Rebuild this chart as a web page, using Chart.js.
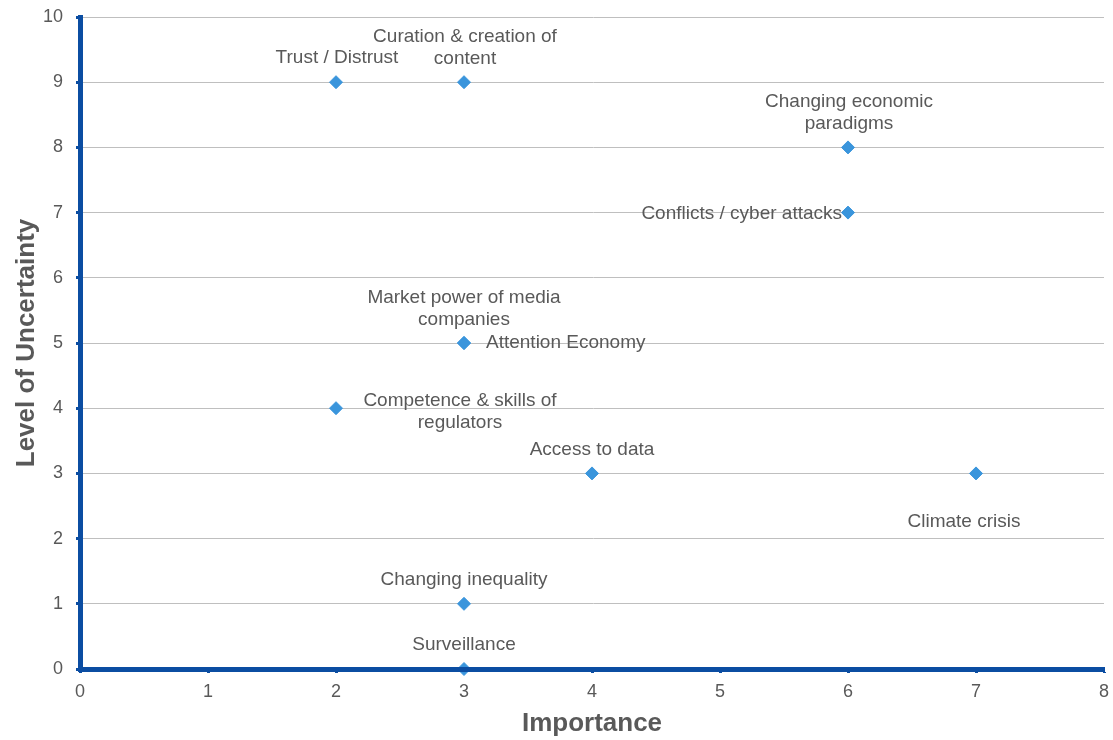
<!DOCTYPE html>
<html>
<head>
<meta charset="utf-8">
<script src="https://cdn.jsdelivr.net/npm/chart.js@4"></script>
<style>
  html, body { margin: 0; padding: 0; background: #fff; }
  #wrap { width: 1113px; height: 740px; position: relative; }
</style>
</head>
<body>
<div id="wrap"><canvas id="riskChart"></canvas></div>
<script>
// Data
const topics = [
    ["Trust / Distrust"],
    ["Curation & creation of", "content"],
    ["Changing economic", "paradigms"],
    ["Conflicts / cyber attacks"],
    ["Market power of media", "companies"],
    ["Attention Economy"],
    ["Competence & skills of", "regulators"],
    ["Access to data"],
    ["Climate crisis"],
    ["Changing inequality"],
    ["Surveillance"]
];
const importance = [2, 3, 6, 6, 3, 3, 2, 4, 7, 3, 3];
const uncertainty = [9, 9, 8, 7, 5, 5, 4, 3, 3, 1, 0];
const xTicks = [0, 1, 2, 3, 4, 5, 6, 7, 8];
const yTicks = [0, 1, 2, 3, 4, 5, 6, 7, 8, 9, 10];

// label placement relative to each point (px): dx, dy of text block middle, alignment
const labelPos = [
    { dx: 1, dy: -24, align: 'center' },
    { dx: 1, dy: -34, align: 'center' },
    { dx: 1, dy: -35, align: 'center' },
    { dx: -6, dy: 1, align: 'right' },
    { dx: 0, dy: -34, align: 'center' },
    { dx: 22, dy: 0, align: 'left' },
    { dx: 124, dy: 4, align: 'center' },
    { dx: 0, dy: -24, align: 'center' },
    { dx: -12, dy: 48, align: 'center' },
    { dx: 0, dy: -24, align: 'center' },
    { dx: 0, dy: -24, align: 'center' }
];

const AXIS_BLUE = '#0b4da2';
const POINT_BLUE = '#3a95dc';
const TEXT_GREY = '#595959';
const FONT = "'Liberation Sans', Arial, sans-serif";

const pointLabels = {
    id: 'pointLabels',
    afterDatasetsDraw(chart) {
        const ctx = chart.ctx;
        const meta = chart.getDatasetMeta(0);
        ctx.save();
        ctx.font = '19px ' + FONT;
        ctx.fillStyle = TEXT_GREY;
        ctx.textBaseline = 'middle';
        meta.data.forEach((pt, i) => {
            const lines = topics[i];
            const p = labelPos[i];
            const lh = 22;
            ctx.textAlign = p.align;
            const top = pt.y + p.dy - (lines.length - 1) * lh / 2;
            lines.forEach((ln, j) => ctx.fillText(ln, pt.x + p.dx, top + j * lh));
        });
        ctx.restore();
    }
};

const ctx = document.getElementById('riskChart').getContext('2d');
new Chart(ctx, {
    type: 'scatter',
    data: {
        datasets: [{
            data: importance.map((x, i) => ({ x: x, y: uncertainty[i] })),
            backgroundColor: POINT_BLUE,
            borderColor: POINT_BLUE,
            borderWidth: 1,
            pointStyle: 'rectRot',
            pointRadius: 6.5,
            pointHoverRadius: 6.5,
            clip: false
        }]
    },
    options: {
        responsive: true,
        maintainAspectRatio: false,
        animation: false,
        devicePixelRatio: 1,
        layout: { padding: { top: 17, right: 9, left: 0, bottom: 0 } },
        plugins: { legend: { display: false }, tooltip: { enabled: false } },
        scales: {
            x: {
                type: 'linear', min: 0, max: 8,
                afterBuildTicks: s => { s.ticks = xTicks.map(v => ({ value: v })); },
                afterFit: s => { s.height = 71; s.paddingLeft = 0; s.paddingRight = 0; },
                grid: { drawOnChartArea: false, drawTicks: true, tickLength: 4, tickWidth: 3, tickColor: AXIS_BLUE },
                border: { color: AXIS_BLUE, width: 5, z: 1 },
                ticks: { color: TEXT_GREY, font: { family: FONT, size: 18 }, padding: 8 },
                title: { display: true, text: 'Importance', color: TEXT_GREY, font: { family: FONT, size: 26, weight: 'bold' }, padding: { top: 0, bottom: 1 } }
            },
            y: {
                type: 'linear', min: 0, max: 10,
                afterBuildTicks: s => { s.ticks = yTicks.map(v => ({ value: v })); },
                afterFit: s => { s.width = 80; s.paddingTop = 0; s.paddingBottom = 0; },
                grid: { color: '#bfbfbf', lineWidth: 1, drawTicks: true, tickLength: 4, tickWidth: 3, tickColor: AXIS_BLUE },
                border: { color: AXIS_BLUE, width: 5, z: 1 },
                ticks: { color: TEXT_GREY, font: { family: FONT, size: 18 }, padding: 13 },
                title: { display: true, text: 'Level of Uncertainty', color: TEXT_GREY, font: { family: FONT, size: 26, weight: 'bold' }, padding: { top: 11, bottom: 0 } }
            }
        }
    },
    plugins: [pointLabels]
});
</script>
</body>
</html>
